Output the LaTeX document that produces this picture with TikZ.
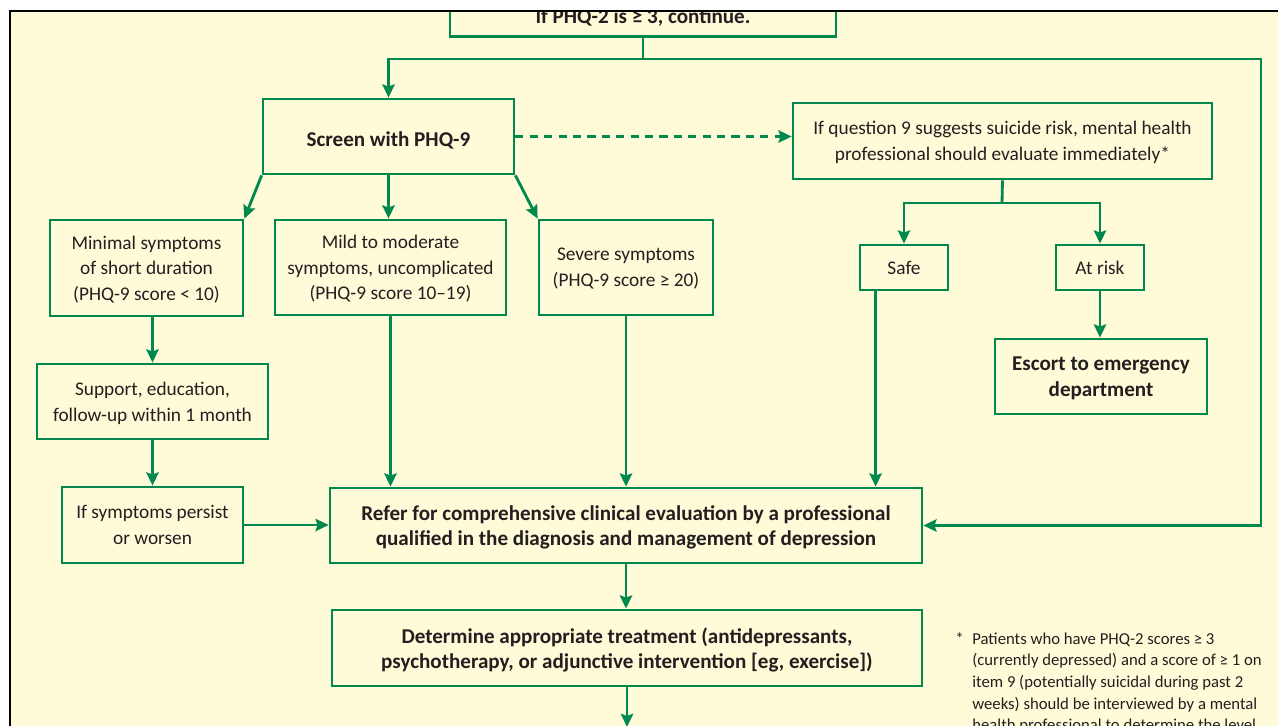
\documentclass[tikz,border=0pt]{standalone}
\usepackage{fontspec}
\setmainfont{Carlito}
\usetikzlibrary{arrows.meta, calc, positioning}
\definecolor{phqgreen}{RGB}{0,137,78}
\definecolor{phqyellow}{RGB}{255,250,215}
\definecolor{phqtext}{RGB}{35,31,32}

\tikzset{
  cell/.style={draw=phqgreen, line width=1.6pt, align=center, inner sep=0pt,
    text=phqtext, text depth=0pt, font=\fontsize{11}{14.6}\selectfont},
  box/.style={cell, execute at begin node=\rule{0pt}{11pt}},
  boldbox/.style={box, font=\fontsize{12}{14.6}\selectfont\bfseries},
  flow/.style={draw=phqgreen, line width=1.6pt, -{Stealth[length=7.5pt,width=7pt,inset=1.2pt]}},
  link/.style={draw=phqgreen, line width=1.6pt},
  note/.style={align=left, inner sep=0pt, text=phqtext, font=\fontsize{9.5}{12.3}\selectfont}
}

\begin{document}
\begin{tikzpicture}[x=0.02cm, y=-0.02cm]
\useasboundingbox (0,0) rectangle (1278,726);
\fill[white] (0,0) rectangle (1278,726);

\begin{scope}
\clip (10,11) rectangle (1278,726);
\fill[phqyellow] (10,11) rectangle (1278,726);

% Boxes
\node[boldbox, minimum width=7.72cm, minimum height=0.9cm] (phqtwo) at (643,14) {If PHQ-2 is ≥ 3, continue.};
\node[boldbox, minimum width=5.02cm, minimum height=1.5cm] (screen) at (388.5,136.5) {Screen with PHQ-9};
\node[box, minimum width=8.38cm, minimum height=1.52cm] (quest) at (1002.5,141) {If question 9 suggests suicide risk, mental health\\professional should evaluate immediately*};
\node[cell, minimum width=1.76cm, minimum height=0.9cm] (safe) at (904,267.5) {Safe};
\node[cell, minimum width=1.76cm, minimum height=0.9cm] (risk) at (1100,267.5) {At risk};
\node[boldbox, minimum width=4.24cm, minimum height=1.5cm] (escort) at (1101,376.5) {Escort to emergency\\department};
\node[box, minimum width=3.86cm, minimum height=1.92cm] (minimal) at (146.5,268) {Minimal symptoms\\of short duration\\(PHQ-9 score {<} 10)};
\node[box, minimum width=4.62cm, minimum height=1.9cm] (mild) at (390.5,267.5) {Mild to moderate\\symptoms, uncomplicated\\(PHQ-9 score 10--19)};
\node[box, minimum width=3.48cm, minimum height=1.9cm] (severe) at (626,267.5) {Severe symptoms\\(PHQ-9 score ≥ 20)};
\node[box, minimum width=4.62cm, minimum height=1.5cm] (support) at (152.5,401.5) {Support, education,\\follow-up within 1 month};
\node[box, minimum width=3.62cm, minimum height=1.52cm] (persist) at (152.5,525) {If symptoms persist\\or worsen};
\node[boldbox, minimum width=11.84cm, minimum height=1.5cm] (refer) at (626,525.5) {Refer for comprehensive clinical evaluation by a professional\\qualified in the diagnosis and management of depression};
\node[boldbox, minimum width=11.8cm, minimum height=1.52cm] (determine) at (627,648) {Determine appropriate treatment (antidepressants,\\psychotherapy, or adjunctive intervention [eg, exercise])};

% Footnote
\node[note, anchor=north west] (footnote) at (972,632) {\llap{*\hspace{5pt}}Patients who have PHQ-2 scores ≥ 3\\(currently depressed) and a score of ≥ 1 on\\item 9 (potentially suicidal during past 2\\weeks) should be interviewed by a mental\\health professional to determine the level};

% Connectors
\coordinate (split) at (643,59);
\coordinate (loop) at (1261,59);
\coordinate (qsplit) at (1002,203);
\coordinate (next) at (627,727);

\draw[link] (phqtwo.south) -- (split);
\draw[flow] (split) -| (screen.north);
\draw[flow] (split) -- (loop) |- (refer.east);

\draw[flow] (screen.south west) -- (minimal.north east);
\draw[flow] (screen.south) -- (screen.south |- mild.north);
\draw[flow] (screen.south east) -- (severe.north west);
\draw[flow, dash pattern=on 4.6pt off 3.6pt] (screen.east) -- (screen.east -| quest.west);

\draw[link] (quest.south) -- (qsplit);
\draw[flow] (qsplit) -| (safe.north);
\draw[flow] (qsplit) -| (risk.north);
\draw[flow] (risk.south) -- (risk.south |- escort.north);
\draw[flow] ([xshift=0.34cm]safe.south west) -- ([xshift=0.34cm]safe.south west |- refer.north);

\draw[flow] (minimal.south -| support.north) -- (support.north);
\draw[flow] (support) -- (persist);
\draw[flow] (persist.east) -- (persist.east -| refer.west);
\draw[flow] (mild.south) -- (mild.south |- refer.north);
\draw[flow] (severe.south) -- (severe.south |- refer.north);
\draw[flow] (refer.south) -- (refer.south |- determine.north);
\draw[flow] (determine.south) -- (determine.south |- next);
\end{scope}

% Frame
\draw[black, line width=1.7pt] (10,726) -- (10,11) -- (1278,11);
\end{tikzpicture}
\end{document}
